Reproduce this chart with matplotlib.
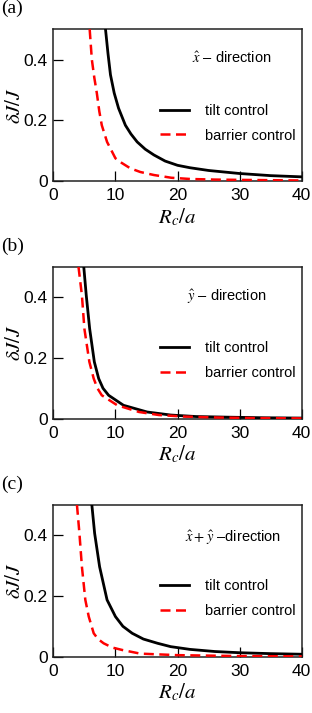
# delta J / J versus R_c / a for three directions

import matplotlib.pyplot as plt

plt.rcParams['font.family'] = ['Liberation Sans', 'DejaVu Sans']
plt.rcParams['mathtext.fontset'] = 'stix'

panel_labels = ['(a)', '(b)', '(c)']
direction_labels = [r'$\hat{x}$ – direction', r'$\hat{y}$ – direction',
                    r'$\hat{x}+\hat{y}$ –direction']

# (a) x-direction
xa_tilt = [8.4, 8.8, 9.2, 9.8, 10.5, 11.6, 12.5, 13.5, 14.8, 16.2, 18, 20, 22, 25, 30, 35, 40]
ya_tilt = [0.5, 0.42, 0.35, 0.29, 0.24, 0.184, 0.155, 0.129, 0.105, 0.086, 0.066, 0.052,
           0.044, 0.035, 0.025, 0.018, 0.014]
xa_barr = [5.85, 6.2, 6.6, 7.0, 7.4, 7.8, 8.65, 10, 11, 12.4, 14, 16.2, 19, 22, 26, 30, 35, 40]
ya_barr = [0.5, 0.40, 0.34, 0.29, 0.23, 0.184, 0.129, 0.075, 0.06, 0.042, 0.03, 0.02, 0.011,
           0.007, 0.005, 0.004, 0.003, 0.002]

# (b) y-direction
xb_tilt = [4.9, 5.3, 5.85, 6.6, 7.3, 8.0, 8.9, 11.3, 15.1, 18.9, 23, 28, 34, 40]
yb_tilt = [0.5, 0.406, 0.296, 0.187, 0.132, 0.1, 0.077, 0.044, 0.022, 0.012, 0.007, 0.005,
           0.003, 0.002]
xb_barr = [4.05, 4.6, 5.0, 5.8, 6.5, 7.1, 7.8, 10.3, 13.8, 17, 21, 26, 32, 40]
yb_barr = [0.5, 0.406, 0.296, 0.187, 0.132, 0.1, 0.077, 0.044, 0.022, 0.012, 0.007, 0.004,
           0.002, 0.001]

# (c) x+y direction
xc_tilt = [6.2, 6.65, 7.45, 8.65, 10.0, 11.2, 12.7, 14.5, 16.8, 18.9, 22, 26, 30, 35, 40]
yc_tilt = [0.5, 0.406, 0.296, 0.187, 0.132, 0.1, 0.077, 0.058, 0.044, 0.033, 0.024, 0.017,
           0.013, 0.010, 0.008]
xc_barr = [3.8, 4.2, 4.6, 5.15, 5.7, 6.5, 7.2, 8.1, 9.5, 11.1, 14, 20, 30, 40]
yc_barr = [0.5, 0.406, 0.296, 0.187, 0.132, 0.077, 0.058, 0.044, 0.03, 0.022, 0.01, 0.005,
           0.002, 0.001]

tilt = [(xa_tilt, ya_tilt), (xb_tilt, yb_tilt), (xc_tilt, yc_tilt)]
barrier = [(xa_barr, ya_barr), (xb_barr, yb_barr), (xc_barr, yc_barr)]

fig = plt.figure(figsize=(3.12, 7.13), dpi=100)
bottoms = [0.746, 0.4128, 0.079]
text_y = [0.81, 0.80, 0.785]
text_x = [0.558, 0.54, 0.532]

for i in range(3):
    ax = fig.add_axes([0.171, bottoms[i], 0.796, 0.213])
    ax.plot(*tilt[i], color='black', lw=2.0, label='tilt control', zorder=3)
    ax.plot(*barrier[i], color='red', lw=1.8, dashes=(4, 2.2), label='barrier control', zorder=4)
    ax.set_xlim(0, 40)
    ax.set_ylim(0, 0.5)
    ax.set_xticks([0, 10, 20, 30, 40])
    ax.set_yticks([0, 0.2, 0.4])
    ax.set_yticklabels(['0', '0.2', '0.4'])
    ax.tick_params(direction='in', length=7, width=0.9, labelsize=12.5, colors='black')
    ax.tick_params(axis='x', pad=5)
    ax.tick_params(axis='y', pad=4)
    for s in ax.spines.values():
        s.set_linewidth(1.1)
        s.set_color('#222222')
    ax.set_xlabel(r'$R_c/a$', fontsize=15, labelpad=2)
    ax.set_ylabel(r'$\delta J/J$', fontsize=15, labelpad=0)
    ax.text(text_x[i], text_y[i], direction_labels[i], transform=ax.transAxes,
            fontsize=10.5, va='center', ha='left')
    ax.legend(loc='upper left', bbox_to_anchor=(0.43, 0.51), frameon=False, fontsize=10.5,
              handlelength=2.0, handletextpad=1.1, labelspacing=0.75, borderpad=0,
              borderaxespad=0)
    fig.text(0.003, (bottoms[i] + 0.213 + 0.041), panel_labels[i], fontsize=14,
             family='Liberation Serif', va='top', ha='left')

fig.savefig('out.png', dpi=100)
